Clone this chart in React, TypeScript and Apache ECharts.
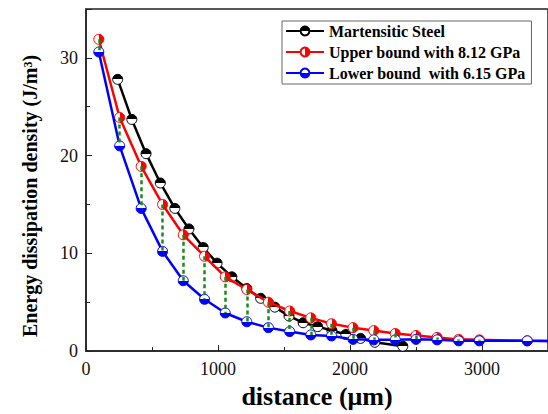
import React, { useEffect, useRef } from "react";
import * as echarts from "echarts";

const steelX = [240, 347, 455, 563, 673, 780, 888, 993, 1105, 1218, 1323, 1430, 1538, 1645, 1755, 1863, 1968, 2080, 2188, 2400];
const steelY = [27.8, 23.7, 20.2, 17.2, 14.6, 12.5, 10.6, 9.0, 7.6, 6.4, 5.4, 4.5, 3.6, 2.9, 2.5, 2.1, 1.7, 1.3, 0.9, 0.5];

const boundX = [97, 255, 418, 580, 737, 898, 1055, 1218, 1382, 1543, 1703, 1860, 2023, 2180, 2343, 2500, 2660, 2823, 2980, 3343, 3700];
const upperY = [31.9, 23.9, 18.9, 15.0, 11.9, 9.7, 7.6, 6.3, 5.0, 4.1, 3.4, 2.8, 2.4, 2.1, 1.8, 1.6, 1.4, 1.2, 1.15, 1.05, 1.0];
const lowerY = [30.6, 21.0, 14.6, 10.2, 7.2, 5.3, 3.9, 3.0, 2.4, 2.0, 1.65, 1.55, 1.2, 1.15, 1.15, 1.2, 1.15, 1.05, 1.05, 1.05, 1.0];

const names = ["Martensitic Steel", "Upper bound with 8.12 GPa", "Lower bound  with 6.15 GPa"];
const yTitle = "Energy dissipation density (J/m\u00b3)";
const xTitle = "distance (\u03bcm)";

const FONT = "Liberation Serif, DejaVu Serif, serif";

function half(color: string, dir: "top" | "bottom" | "right") {
  const x2 = dir === "right" ? 1 : 0;
  const y2 = dir === "right" ? 0 : 1;
  const first = dir === "top" ? color : "#ffffff";
  const second = dir === "top" ? "#ffffff" : color;
  return new echarts.graphic.LinearGradient(0, 0, x2, y2, [
    { offset: 0, color: first },
    { offset: 0.5, color: first },
    { offset: 0.5, color: second },
    { offset: 1, color: second },
  ]);
}

export default function App() {
  const ref = useRef<HTMLDivElement>(null);
  useEffect(() => {
    if (!ref.current) return;
    const chart = echarts.init(ref.current, undefined, { renderer: "svg" });
    const pairs = (a: number[], b: number[]) => a.map((v, i) => [v, b[i]]);
    const dashes = boundX
      .map((x, i) => ({ coords: [[x, upperY[i]], [x, lowerY[i]]] }))
      .filter((d, i) => upperY[i] - lowerY[i] > 0.05);
    chart.setOption({
      animation: false,
      backgroundColor: "#ffffff",
      textStyle: { fontFamily: FONT },
      grid: {
        left: 86,
        top: 9,
        width: 467,
        height: 343,
        show: true,
        borderColor: "#222",
        borderWidth: 1.5,
        backgroundColor: "transparent",
      },
      graphic: [
        {
          type: "text",
          x: 30,
          y: 196,
          rotation: Math.PI / 2,
          style: {
            text: yTitle,
            font: "bold 20px " + FONT,
            fill: "#000",
            align: "center",
            verticalAlign: "middle",
          },
        },
      ],
      legend: {
        left: 282,
        top: 21,
        orient: "vertical",
        itemWidth: 38,
        itemHeight: 11,
        itemGap: 5,
        padding: [2, 6, 3, 3],
        borderColor: "#666",
        borderWidth: 1,
        data: names,
        textStyle: { fontFamily: FONT, fontWeight: "bold", fontSize: 16, color: "#000" },
      },
      xAxis: {
        type: "value",
        min: 0,
        max: 3500,
        interval: 1000,
        name: xTitle,
        nameLocation: "middle",
        nameGap: 30,
        nameTextStyle: { fontFamily: FONT, fontWeight: "bold", fontSize: 26, color: "#000" },
        axisLine: { show: true, lineStyle: { color: "#222", width: 1.5 } },
        axisTick: { show: true, inside: true, length: 6, lineStyle: { color: "#222" } },
        minorTick: { show: true, splitNumber: 2, length: 4, lineStyle: { color: "#222" } },
        splitLine: { show: false },
        axisLabel: {
          fontFamily: FONT,
          fontSize: 18,
          color: "#111",
          margin: 9,
          showMaxLabel: false,
          formatter: (v: number) => String(v),
        },
      },
      yAxis: {
        type: "value",
        min: 0,
        max: 35,
        interval: 10,
        axisLine: { show: true, lineStyle: { color: "#222", width: 1.5 } },
        axisTick: { show: true, inside: true, length: 6, lineStyle: { color: "#222" } },
        minorTick: { show: true, splitNumber: 2, length: 4, lineStyle: { color: "#222" } },
        splitLine: { show: false },
        axisLabel: {
          fontFamily: FONT,
          fontSize: 18,
          color: "#111",
          margin: 8,
          showMaxLabel: false,
          formatter: (v: number) => String(v),
        },
      },
      series: [
        {
          name: names[0],
          type: "line",
          data: pairs(steelX, steelY),
          symbol: "circle",
          symbolSize: 10,
          lineStyle: { color: "#000", width: 2.5 },
          itemStyle: { color: half("#000", "top"), borderColor: "#000", borderWidth: 1 },
          z: 3,
        },
        {
          name: names[1],
          type: "line",
          data: pairs(boundX, upperY),
          symbol: "circle",
          symbolSize: 10,
          lineStyle: { color: "#ff0000", width: 2.5 },
          itemStyle: { color: half("#ff0000", "right"), borderColor: "#ff0000", borderWidth: 1 },
          z: 4,
        },
        {
          name: names[2],
          type: "line",
          data: pairs(boundX, lowerY),
          symbol: "circle",
          symbolSize: 10,
          lineStyle: { color: "#0000ff", width: 2.5 },
          itemStyle: { color: half("#0000ff", "bottom"), borderColor: "#0000ff", borderWidth: 1 },
          z: 5,
        },
        {
          name: "gap",
          type: "lines",
          coordinateSystem: "cartesian2d",
          data: dashes,
          lineStyle: { color: "#1a8a1a", width: 2.5, type: [4, 3], opacity: 1 },
          z: 6,
        },
      ],
    });
    return () => chart.dispose();
  }, []);
  return (
    <div
      ref={ref}
      style={{ position: "absolute", left: 0, top: 0, width: 548, height: 414 }}
    />
  );
}
